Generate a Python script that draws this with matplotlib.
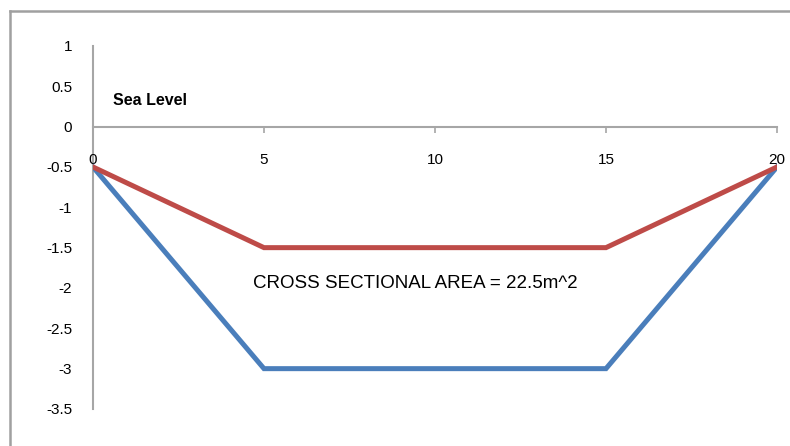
import matplotlib
matplotlib.use('Agg')
import matplotlib.pyplot as plt
from matplotlib.lines import Line2D

# channel profile: distance across vs depth
distance = [0, 5, 15, 20]
original_bed = [-0.5, -3, -3, -0.5]
new_bed = [-0.5, -1.5, -1.5, -0.5]
x_ticks = [0, 5, 10, 15, 20]
y_ticks = [1, 0.5, 0, -0.5, -1, -1.5, -2, -2.5, -3, -3.5]

plt.rcParams['font.family'] = ['Liberation Sans', 'DejaVu Sans']

fig = plt.figure(figsize=(7.9, 4.46), dpi=100)
ax = fig.add_axes([0.1177, 0.083, 0.8658, 0.8139])

ax.plot(distance, original_bed, color='#4A7EBB', linewidth=3.6, solid_joinstyle='miter')
ax.plot(distance, new_bed, color='#BE4B48', linewidth=3.6, solid_joinstyle='miter')

ax.set_xlim(0, 20)
ax.set_ylim(-3.5, 1)
ax.set_xticks(x_ticks)
ax.set_yticks(y_ticks)
ax.set_yticklabels([f'{v:g}' for v in y_ticks])

for s in ['top', 'right']:
    ax.spines[s].set_visible(False)
ax.spines['bottom'].set_position(('data', 0))
for s in ['bottom', 'left']:
    ax.spines[s].set_color('#A6A6A6')
    ax.spines[s].set_linewidth(1.5)
    ax.spines[s].set_zorder(0)

ax.tick_params(axis='x', direction='out', length=4, width=1.2, color='#A6A6A6',
               pad=15, labelsize=11)
ax.tick_params(axis='y', length=0, pad=15, labelsize=11)

ax.text(0.58, 0.33, 'Sea Level', fontsize=11.5, fontweight='bold', va='center', ha='left')
ax.text(4.68, -1.95, 'CROSS SECTIONAL AREA = 22.5m^2', fontsize=13.5, va='center', ha='left')

# outer chart frame
frame_color = '#A0A0A0'
fig.add_artist(Line2D([10 / 790, 1], [1 - 11 / 446] * 2, transform=fig.transFigure,
                      color=frame_color, linewidth=1.8))
fig.add_artist(Line2D([10 / 790] * 2, [0, 1 - 11 / 446], transform=fig.transFigure,
                      color=frame_color, linewidth=1.8))

fig.savefig('out.png', dpi=100)
